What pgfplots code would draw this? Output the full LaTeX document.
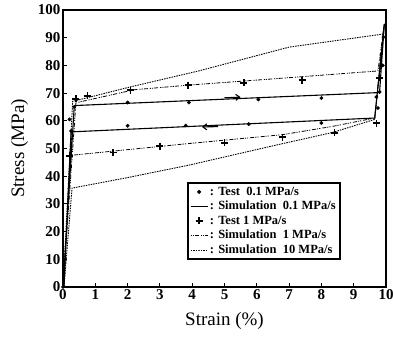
\documentclass[border=0pt]{standalone}
\usepackage{pgfplots}
\pgfplotsset{compat=1.18}
\usepackage{fontspec}
\setmainfont{Liberation Serif}
\usetikzlibrary{arrows.meta}
\begin{document}
\begin{tikzpicture}
\begin{axis}[
  at={(0,0)}, anchor=south west,
  scale only axis, width=323pt, height=277pt,
  xmin=0, xmax=10, ymin=0, ymax=100,
  xtick={0,1,...,10}, ytick={0,10,...,100},
  tick pos=left, tick align=inside,
  major tick length=4pt,
  axis line style={line width=1.2pt},
  tick style={line width=0.9pt, black},
  /pgf/number format/assume math mode=true,
  ticklabel style={font=\bfseries\fontsize{15}{15}\selectfont},
  xticklabel style={yshift=1pt},
  yticklabel style={xshift=1pt},
  xlabel={Strain (\%)}, ylabel={Stress (MPa)},
  label style={font=\fontsize{19}{19}\selectfont},
  xlabel style={yshift=-6pt},
  ylabel style={yshift=3pt},
  legend cell align=left,
  legend style={at={(0.385,0.0975)}, anchor=south west,
    draw=black, line width=1.8pt,
    font=\bfseries\fontsize{12.5}{13}\selectfont,
    inner xsep=2pt, inner ysep=2pt, row sep=0.5pt,
    nodes={line width=0.4pt}},
  legend image post style={line width=0.6pt},
]
% Test 0.1 MPa/s
\addplot[only marks, mark=*, mark size=1.7pt] coordinates {
 (0,0) (0.2,60.5) (0.35,65) (2.0,66.6) (3.9,66.6) (6.05,67.7) (8.0,68.2)
 (9.8,70.4) (9.9,80) (9.92,90.2) (9.7,68.6) (9.75,64.6)
 (8.0,59.2) (5.75,58.8) (3.8,58.3) (2.0,58.2) (0.25,56.3)};
\addlegendentry{: Test~ 0.1 MPa/s}
% Simulation 0.1 MPa/s
\addplot[line width=1.1pt] coordinates {
 (0,0) (0.35,65.5) (9.8,70.2) (9.95,95) (9.65,61) (0.25,56) (0.03,0)};
\addlegendentry{: Simulation~ 0.1 MPa/s}
% Test 1 MPa/s
\addplot[only marks, mark=+, mark size=3.5pt, mark options={line width=1.3pt}] coordinates {
 (0.2,47.3) (0.4,67.9) (0.75,69) (2.1,71.1) (3.87,72.9) (5.6,73.7)
 (7.4,74.7) (9.8,75.5) (9.7,59.2) (8.4,55.6) (6.8,54.1) (5.0,52)
 (3.0,50.9) (1.55,48.5)};
\addlegendentry{: Test 1 MPa/s}
% Simulation 1 MPa/s
\addplot[line width=0.8pt, dash pattern=on 1.2pt off 1pt on 1.2pt off 1pt on 4pt off 2pt] coordinates {
 (0,0) (0.4,66.5) (2.2,71.2) (3.9,72.9) (6,74.7) (9.75,78) (9.95,95)
 (9.65,61) (8.35,58) (6.8,55) (3.9,51.8) (0.22,47.5) (0.03,0)};
\addlegendentry{: Simulation~ 1 MPa/s}
% Simulation 10 MPa/s
\addplot[line width=0.9pt, dash pattern=on 1.5pt off 1pt] coordinates {
 (0,0) (0.3,67) (2.07,72.2) (4.2,78) (7,86.6) (9.9,91.3) (9.95,95)
 (9.65,60.5) (8.35,55.8) (6.7,51.5) (3.9,44) (2,39.5) (0.28,35.7) (0.03,0)};
\addlegendentry{: Simulation~ 10 MPa/s}
% direction arrows
\addplot[forget plot, line width=1.1pt, -{Straight Barb[length=4pt,width=6pt]}] coordinates {(5.0,68.3) (5.5,68.55)};
\addplot[forget plot, line width=1.1pt, -{Straight Barb[length=4pt,width=6pt]}] coordinates {(4.8,57.9) (4.3,57.8)};
\end{axis}
\pgfresetboundingbox
\path (-63pt,-51pt) rectangle (330pt,287pt);
\end{tikzpicture}
\end{document}
